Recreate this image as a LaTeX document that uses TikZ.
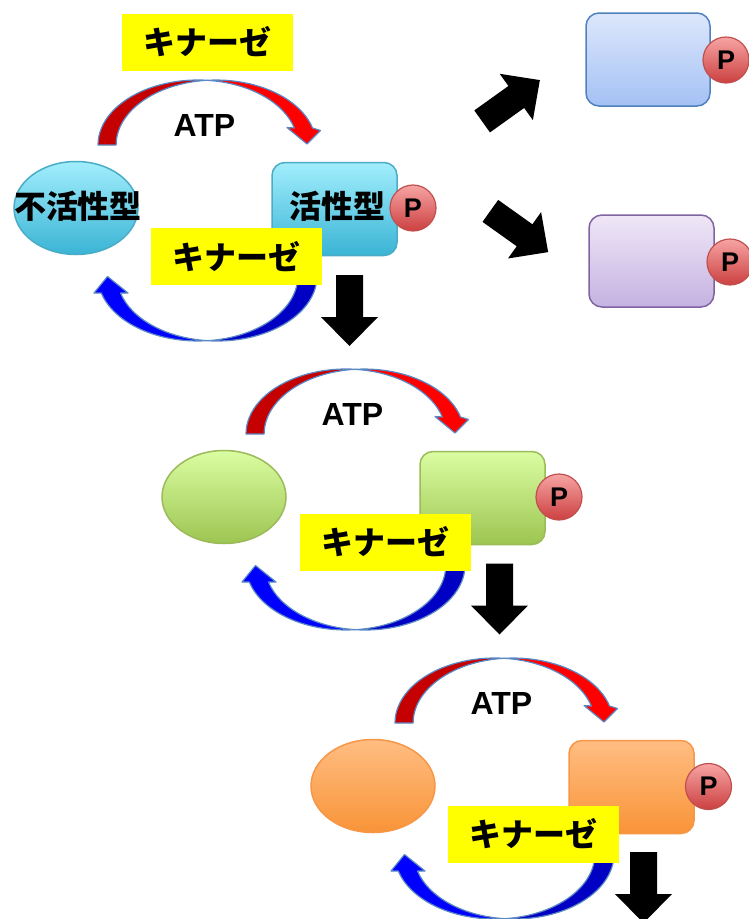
\documentclass[tikz,border=0pt]{standalone}
\usepackage{fontspec}
\newfontfamily\jp{Noto Sans CJK JP}
\newfontfamily\latn{Liberation Sans}
\usetikzlibrary{shapes.geometric}

% shape fills (top / bottom of the gradient) and outlines
\definecolor{cyanTop}{HTML}{A2EEFC}
\definecolor{cyanBot}{HTML}{3AB4D5}
\definecolor{cyanEdge}{HTML}{4BACC6}
\definecolor{greenTop}{HTML}{DBFDA2}
\definecolor{greenBot}{HTML}{9CC551}
\definecolor{greenEdge}{HTML}{9BBB59}
\definecolor{orangeTop}{HTML}{FFBD82}
\definecolor{orangeBot}{HTML}{F99438}
\definecolor{orangeEdge}{HTML}{F79646}
\definecolor{blueTop}{HTML}{DDE7FC}
\definecolor{blueBot}{HTML}{A4C1F4}
\definecolor{blueEdge}{HTML}{4F81BD}
\definecolor{purpTop}{HTML}{EFE7F7}
\definecolor{purpBot}{HTML}{C5B2E1}
\definecolor{purpEdge}{HTML}{8064A2}
\definecolor{pTop}{HTML}{F7A4A4}
\definecolor{pBot}{HTML}{CC4040}
\definecolor{pEdge}{HTML}{C0504D}
\definecolor{bandEdge}{HTML}{5A88C4}
\definecolor{redDark}{HTML}{C40000}
\definecolor{redLight}{HTML}{FF0000}
\definecolor{bluDark}{HTML}{0000C4}
\definecolor{bluLight}{HTML}{0000FF}
\definecolor{kinYellow}{HTML}{FFFF00}

\tikzset{
  form/.style={draw=#1Edge, line width=1.5pt, top color=#1Top, bottom color=#1Bot},
  inactive/.style={ellipse, form=#1, minimum width=124pt, minimum height=93pt, inner sep=0pt},
  active/.style={rectangle, rounded corners=13pt, form=#1, minimum width=125pt, minimum height=93pt, inner sep=0pt},
  phos/.style={circle, draw=pEdge, line width=1.2pt, top color=pTop, bottom color=pBot,
    minimum size=46pt, inner sep=0pt, text=black, font=\latn\bfseries\fontsize{27}{27}\selectfont},
  kinase/.style={fill=kinYellow, minimum width=171pt, minimum height=57pt, inner sep=0pt,
    font=\jp\bfseries\fontsize{32}{32}\selectfont},
  lbl/.style={inner sep=0pt, font=\jp\bfseries\fontsize{32}{32}\selectfont},
  atp/.style={inner sep=0pt, font=\latn\bfseries\fontsize{32}{32}\selectfont},
  band/.style={draw=bandEdge, line width=1.2pt, line join=round},
  % phosphorylation arc over the top of a cycle
  upperband/.pic={
    \path[band, fill=redDark] (98,145)
      arc[start angle=180, end angle=275.2, x radius=100, y radius=65]
      arc[start angle=264.8, end angle=180, x radius=100, y radius=65] -- cycle;
    \path[band, fill=redLight] (312.5,128)
      arc[start angle=344.8, end angle=264.8, x radius=100, y radius=65]
      arc[start angle=275.2, end angle=344.8, x radius=100, y radius=65]
      -- (287,127.5) -- (307,144) -- (320.5,130.5) -- cycle;
  },
  % return arc under a cycle
  lowerband/.pic={
    \path[band, fill=bluDark] (317,276)
      arc[start angle=0, end angle=95.5, x radius=100, y radius=65]
      arc[start angle=84.5, end angle=0, x radius=100, y radius=65] -- cycle;
    \path[band, fill=bluLight] (120.5,293)
      arc[start angle=164.8, end angle=95.5, x radius=100, y radius=65]
      arc[start angle=84.5, end angle=164.8, x radius=100, y radius=65]
      -- (94,293) -- (107.5,276.5) -- (128,293) -- cycle;
  },
  bigarrow/.pic={
    \fill[black] (-35.5,-13.5) -- (6.5,-13.5) -- (6.5,-28.5) -- (35.5,0)
      -- (6.5,28.5) -- (6.5,13.5) -- (-35.5,13.5) -- cycle;
  }
}

\begin{document}
\begin{tikzpicture}[x=1pt, y=-1pt]
\useasboundingbox (0,0) rectangle (749,919);

% first cycle: inactive / active form
\begin{scope}
  \node[inactive=cyan] (ina1) at (76,208) {};
  \node[active=cyan] (act1) at (334.5,209) {};
  \node[lbl] (inatxt) at (78,206) {不活性型};
  \node[lbl] (acttxt) at (337.5,206) {活性型};
  \node[phos] (p1) at (413,208) {P};
  \pic at (0,0) {upperband};
  \pic at (0,0) {lowerband};
  \node[atp] (atp1) at (204.5,125) {ATP};
  \node[kinase] (kintop) at (207.5,42) {キナーゼ};
  \node[kinase] (kin1) at (236.5,256.5) {キナーゼ};
  \pic[rotate=-90] at (349.5,310.5) {bigarrow};
\end{scope}

% branch to two phosphorylated targets
\pic[rotate=35.6] at (511,100.75) {bigarrow};
\pic[rotate=-35.5] at (519.25,231.5) {bigarrow};
\node[active=blue, minimum width=124pt] (tgtA) at (648,59.5) {};
\node[phos] (pA) at (726,60) {P};
\node[active=purp, minimum height=92pt] (tgtB) at (651.5,261) {};
\node[phos] (pB) at (730,262) {P};

% second cycle
\begin{scope}[shift={(148,289)}]
  \node[inactive=green] (ina2) at (76,208) {};
  \node[active=green] (act2) at (334.5,209) {};
  \node[phos] (p2) at (411,208) {P};
  \pic at (0,0) {upperband};
  \pic at (0,0) {lowerband};
  \node[atp] (atp2) at (204.5,125) {ATP};
  \node[kinase] (kin2) at (237.5,253) {キナーゼ};
  \pic[rotate=-90] at (351.5,310) {bigarrow};
\end{scope}

% third cycle
\begin{scope}[shift={(297,578)}]
  \node[inactive=orange] (ina3) at (76,208) {};
  \node[active=orange] (act3) at (334.5,209) {};
  \node[phos] (p3) at (411.5,208.5) {P};
  \pic at (0,0) {upperband};
  \pic at (0,0) {lowerband};
  \node[atp] (atp3) at (204.5,125) {ATP};
  \node[kinase] (kin3) at (236.5,256) {キナーゼ};
  \pic[rotate=-90] at (346.5,309.5) {bigarrow};
\end{scope}
\end{tikzpicture}
\end{document}
